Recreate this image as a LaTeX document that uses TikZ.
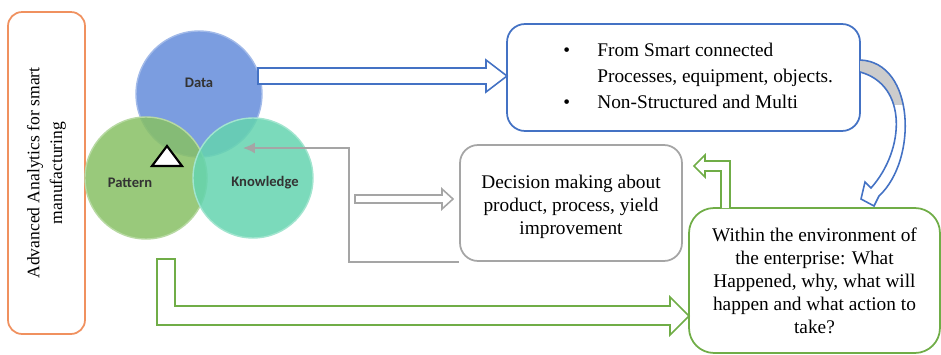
\documentclass[tikz,border=0pt]{standalone}
\usepackage{fontspec}
\setmainfont{Liberation Serif}
\newfontfamily\vennfont{Carlito}
\usetikzlibrary{positioning, arrows.meta}

\definecolor{boxblue}{RGB}{68,114,196}
\definecolor{boxgreen}{RGB}{112,173,71}
\definecolor{boxorange}{RGB}{240,145,95}
\definecolor{boxgray}{RGB}{165,165,165}
\definecolor{datafill}{RGB}{100,140,218}
\definecolor{patternfill}{RGB}{135,192,100}
\definecolor{knowfill}{RGB}{100,212,175}

\begin{document}
\begin{tikzpicture}[
  x=0.02cm, y=-0.02cm,
  textbox/.style={rectangle, rounded corners=0.36cm, line width=1pt, fill=white, align=center, inner sep=0pt, font=\fontsize{11}{13.1}\selectfont},
  venn/.style={circle, inner sep=0pt, fill opacity=0.85, line width=0.8pt},
  venntext/.style={inner sep=0pt, font=\vennfont\bfseries\fontsize{8.3}{10}\selectfont, text=black!80},
  blockarrow/.style={line width=0.9pt, fill=white, line join=miter},
  feedback/.style={draw=boxgray, line width=0.9pt, -{Latex[length=0.24cm,width=0.22cm]}},
]
\useasboundingbox (0,0) rectangle (941,355);

\node[name=analytics, textbox, draw=boxorange, rotate=90, rounded corners=0.28cm,
  minimum width=6.44cm, minimum height=1.54cm, font=\fontsize{10}{13}\selectfont]
  at (46.5,173) {Advanced Analytics for smart\\manufacturing};

\node[name=data, venn, fill=datafill, draw=datafill!60!white, minimum size=2.52cm] at (199,94) {};
\node[name=pattern, venn, fill=patternfill, draw=patternfill!60!white, minimum size=2.44cm] at (146,178) {};
\node[name=knowledge, venn, fill=knowfill, draw=knowfill!60!white, minimum size=2.4cm] at (253,178) {};
\node[name=datatext, venntext] at (199,83) {Data};
\node[name=patterntext, venntext] at (130,183) {Pattern};
\node[name=knowledgetext, venntext] at (265,183) {Knowledge};
\draw[fill=white, line width=1.2pt, line join=miter] (152,166) -- (182,166) -- (167,146) -- cycle;

\node[name=sources, textbox, draw=boxblue, minimum width=7.06cm, minimum height=2.14cm] at (683.5,77.5) {};
\node[name=sourcestext, anchor=west, inner sep=0pt, font=\fontsize{11}{14.8}\selectfont] at (563,77)
  {\begin{tabular}{@{}p{0.68cm}@{}l@{}}
   \textbullet & From Smart connected\\
               & Processes, equipment, objects.\\
   \textbullet & Non-Structured and Multi
   \end{tabular}};

\node[name=decision, textbox, draw=boxgray, minimum width=4.44cm, minimum height=2.32cm] at (571,203) {};
\node[name=decisiontext, align=center, inner sep=0pt, font=\fontsize{11}{13.1}\selectfont] at (571,207)
  {Decision making about\\product, process, yield\\improvement};

\node[name=enterprise, textbox, draw=boxgreen, rounded corners=0.5cm, minimum width=5.02cm, minimum height=2.9cm] at (814.5,280.5)
  {Within the environment of\\the enterprise: What\\Happened, why, what will\\happen and what action to\\take?};

\draw[blockarrow, draw=boxblue] (258,68) -- (486,68) -- (486,60) -- (507,76) -- (486,92) -- (486,84) -- (258,84) -- cycle;
\draw[blockarrow, draw=boxgray] (355,195) -- (442,195) -- (442,189) -- (453,199) -- (442,209) -- (442,203) -- (355,203) -- cycle;
\draw[blockarrow, draw=boxgreen] (157,259) -- (175,259) -- (175,306) -- (670,306) -- (670,297) -- (689,316)
  -- (670,335) -- (670,325) -- (157,325) -- cycle;
\draw[blockarrow, draw=boxgreen] (721,208) -- (721,171) -- (705,171) -- (705,177) -- (694,166) -- (705,155)
  -- (705,161) -- (730,161) -- (730,208);

\fill[white] (860,60) .. controls (915,62) and (918,160) .. (879,196) -- (874,206) -- (861,199) -- (865,182)
  -- (871,188) .. controls (905,150) and (908,85) .. (860,72) -- cycle;
\begin{scope}
  \clip (855,55) rectangle (920,104);
  \fill[gray!40] (860,60) .. controls (915,62) and (918,160) .. (879,196)
    -- (871,188) .. controls (905,150) and (908,85) .. (860,72) -- cycle;
\end{scope}
\draw[boxblue, line width=0.9pt, line join=miter] (860,60) .. controls (915,62) and (918,160) .. (879,196) -- (874,206)
  -- (861,199) -- (865,182) -- (871,188) .. controls (905,150) and (908,85) .. (860,72);

\coordinate (knowin) at (243,148);
\draw[feedback] (decision.south west) -- ++(-110,0) |- (knowin);
\end{tikzpicture}
\end{document}
